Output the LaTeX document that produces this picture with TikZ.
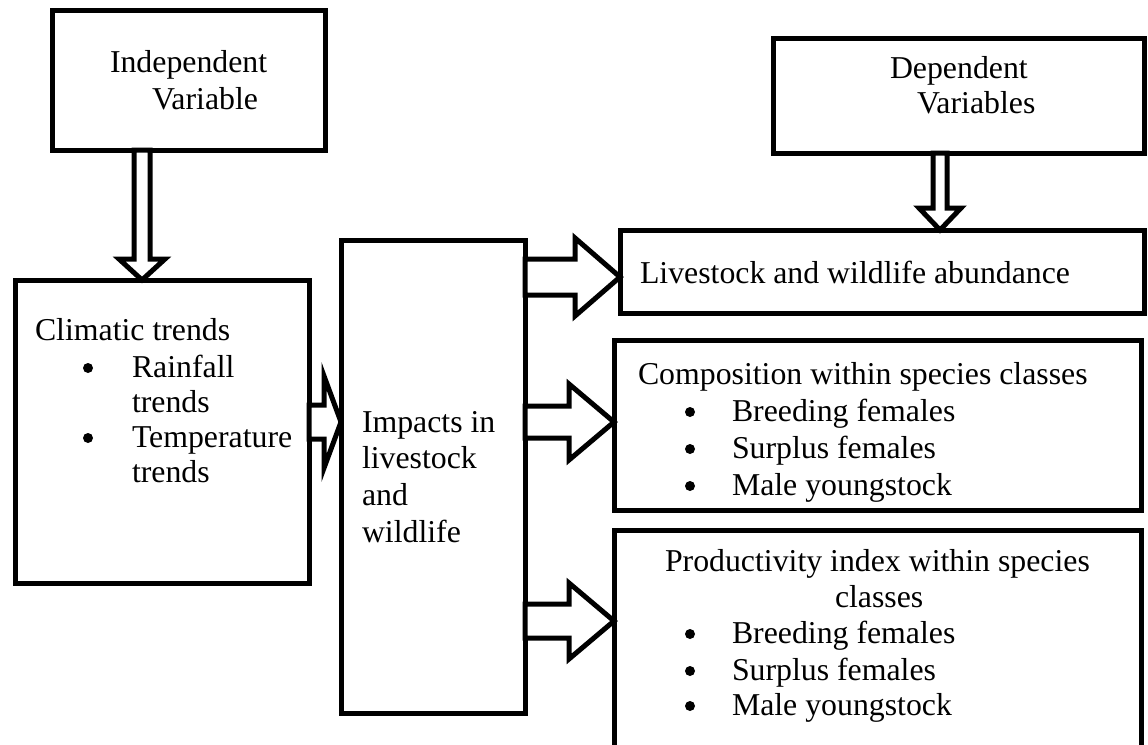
\documentclass[tikz,border=0pt]{standalone}
\usepackage{fontspec}
\setmainfont{Liberation Serif}
\usetikzlibrary{calc}
\tikzset{
  boxnode/.style={draw=black, line width=5pt, rectangle, inner sep=0pt, outer sep=0pt, fill=white},
  txt/.style={anchor=base west, inner sep=0pt, outer sep=0pt, font=\fontsize{31.8}{36}\selectfont},
  bul/.style={circle, fill=black, inner sep=0pt, outer sep=0pt, minimum size=10pt},
  blk/.style={draw=black, fill=white, line width=5pt, line join=miter, miter limit=10},
}
% vertical block arrow: start, tip, half shaft, half head, head length
\newcommand\vblk[5]{%
  \draw[blk] ($(#1)+(-#3,0)$) -- ($(#2)+(-#3,-#5)$) -- ($(#2)+(-#4,-#5)$) -- (#2)
    -- ($(#2)+(#4,-#5)$) -- ($(#2)+(#3,-#5)$) -- ($(#1)+(#3,0)$) -- cycle;}
% horizontal block arrow
\newcommand\hblk[5]{%
  \draw[blk] ($(#1)+(0,-#3)$) -- ($(#2)+(-#5,-#3)$) -- ($(#2)+(-#5,-#4)$) -- (#2)
    -- ($(#2)+(-#5,#4)$) -- ($(#2)+(-#5,#3)$) -- ($(#1)+(0,#3)$) -- cycle;}
\begin{document}
\begin{tikzpicture}[x=1pt, y=-1pt]
\useasboundingbox (0,0) rectangle (1148,744);
\clip (0,0) rectangle (1148,744);
% boxes
\node[boxnode, minimum width=273pt, minimum height=140pt, anchor=north west] (indep) at (52,10) {};
\node[boxnode, minimum width=294pt, minimum height=303pt, anchor=north west] (clim) at (15,280) {};
\node[boxnode, minimum width=184pt, minimum height=473pt, anchor=north west] (imp) at (341,240) {};
\node[boxnode, minimum width=371pt, minimum height=115pt, anchor=north west] (dep) at (773,38) {};
\node[boxnode, minimum width=524pt, minimum height=83pt, anchor=north west] (live) at (620,230) {};
\node[boxnode, minimum width=527pt, minimum height=170pt, anchor=north west] (comp) at (614,340) {};
\node[boxnode, minimum width=527pt, minimum height=240pt, anchor=north west] (prod) at (614,530) {};
% texts
\node[txt] (t1) at (110,72) {Independent};
\node[txt] (t2) at (152,109) {Variable};
\node[txt] (t3) at (890,78) {Dependent};
\node[txt] (t4) at (917,113) {Variables};
\node[txt] (t5) at (35,340) {Climatic trends};
\node[bul] (b1) at (88,368) {};
\node[txt] (t6) at (132,377) {Rainfall};
\node[txt] (t7) at (132,412) {trends};
\node[bul] (b2) at (88,438) {};
\node[txt] (t8) at (132,447) {Temperature};
\node[txt] (t9) at (132,482) {trends};
\node[txt] (t10) at (362,432) {Impacts in};
\node[txt] (t11) at (362,468) {livestock};
\node[txt] (t12) at (362,505) {and};
\node[txt] (t13) at (362,542) {wildlife};
\node[txt] (t14) at (640,283) {Livestock and wildlife abundance};
\node[txt] (t15) at (638,384) {Composition within species classes};
\node[bul] (b3) at (690,412) {};
\node[txt] (t16) at (732,421) {Breeding females};
\node[bul] (b4) at (690,449) {};
\node[txt] (t17) at (732,458) {Surplus females};
\node[bul] (b5) at (690,486) {};
\node[txt] (t18) at (732,495) {Male youngstock};
\node[txt] (t19) at (665,571) {Productivity index within species};
\node[txt] (t20) at (835,607) {classes};
\node[bul] (b6) at (690,634) {};
\node[txt] (t21) at (732,643) {Breeding females};
\node[bul] (b7) at (690,671) {};
\node[txt] (t22) at (732,680) {Surplus females};
\node[bul] (b8) at (690,706) {};
\node[txt] (t23) at (732,715) {Male youngstock};
% arrow end points
\path (indep.south west) ++(90,0) coordinate (a1s);
\path (a1s |- clim.north) coordinate (a1e);
\path (dep.south west) ++(167,0) coordinate (a2s);
\path (a2s |- live.north) coordinate (a2e);
\path (clim.south east) ++(0,-161) coordinate (a3s);
\path (a3s -| imp.west) coordinate (a3e);
\path (imp.north east) ++(0,37) coordinate (a4s);
\path (a4s -| live.west) coordinate (a4e);
\path (imp.north east) ++(0,182) coordinate (a5s);
\path (a5s -| comp.west) coordinate (a5e);
\path (imp.north east) ++(0,381) coordinate (a6s);
\path (a6s -| prod.west) coordinate (a6e);
% block arrows
\vblk{a1s}{a1e}{8}{23}{21}
\vblk{a2s}{a2e}{7}{21}{22}
\hblk{a3s}{a3e}{17}{46}{17}
\hblk{a4s}{a4e}{18}{39}{45}
\hblk{a5s}{a5e}{16}{38}{45}
\hblk{a6s}{a6e}{17}{38}{45}
\end{tikzpicture}
\end{document}
